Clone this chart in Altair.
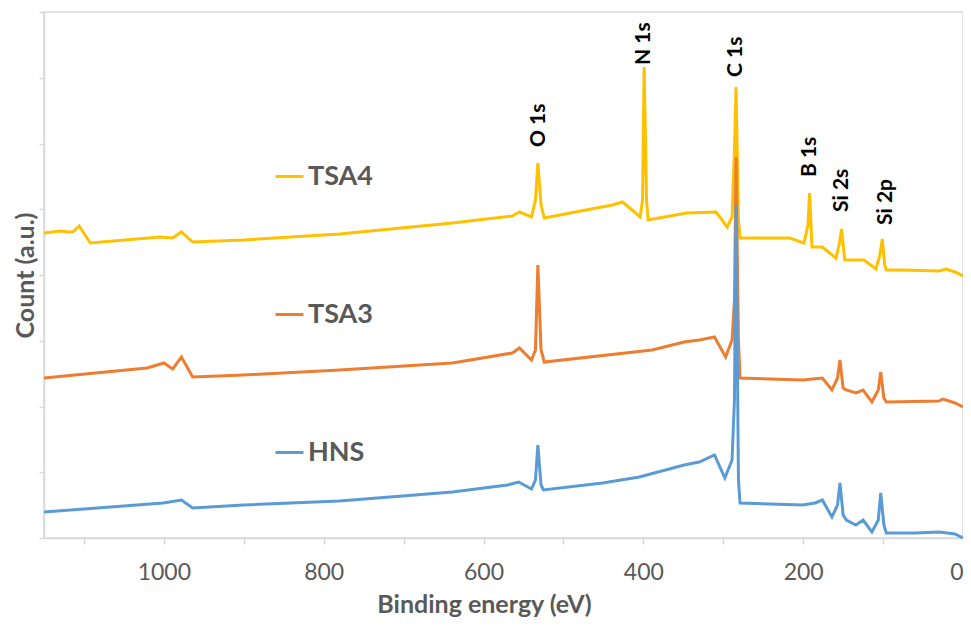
import altair as alt
import pandas as pd

# ---- data (binding energy in eV, count in a.u.) ----
tsa4_ev = [1150, 1130, 1120, 1114, 1106, 1092, 1005, 989, 978, 964, 900, 780, 639, 564, 555, 540,
           535, 532, 528, 524, 439, 426, 414, 404, 401, 399, 396, 394, 346, 309, 295, 289, 286,
           284, 281, 279, 217, 199, 194, 192, 189, 176, 159, 155, 152, 148, 124, 109, 104, 101,
           98, 96, 76, 30, 21, 10, 0]
tsa4_counts = [305, 307, 306, 306, 312, 295, 301, 300, 306, 296, 298, 304, 315, 322, 326, 321,
               338, 375, 333, 320, 333, 336, 328, 321, 338, 471, 338, 318, 325, 326, 311, 321, 388,
               451, 318, 300, 300, 295, 313, 345, 291, 291, 280, 293, 309, 278, 278, 269, 283, 299,
               273, 268, 268, 267, 269, 266, 262]

tsa3_ev = [1150, 1021, 1000, 989, 978, 964, 900, 780, 639, 564, 555, 540, 535, 532, 528, 524,
           389, 349, 330, 311, 297, 289, 286, 284, 281, 279, 201, 176, 164, 157, 154, 150, 146,
           134, 125, 114, 106, 103, 99, 96, 30, 25, 10, 0]
tsa3_counts = [160, 170, 175, 169, 181, 161, 163, 168, 175, 185, 190, 178, 188, 273, 188, 176,
               188, 196, 198, 201, 181, 198, 238, 381, 198, 160, 158, 160, 148, 160, 178, 150, 148,
               145, 148, 136, 148, 166, 140, 136, 137, 139, 135, 131]

hns_ev = [1150, 1100, 1050, 1001, 978, 964, 900, 780, 639, 570, 556, 540, 535, 532, 528, 525,
          451, 405, 349, 330, 311, 298, 289, 286, 284, 281, 279, 201, 185, 176, 164, 157, 154,
          150, 146, 134, 125, 114, 106, 103, 99, 96, 60, 30, 10, 0]
hns_counts = [26, 29, 32, 35, 38, 30, 33, 37, 46, 53, 56, 49, 58, 93, 53, 48,
              55, 61, 73, 76, 83, 60, 78, 138, 333, 58, 35, 33, 35, 38, 21, 33, 55,
              23, 18, 13, 18, 6, 18, 45, 13, 5, 5, 6, 4, 0]

series_names = ["TSA4", "TSA3", "HNS"]
series_colors = ["#FFC000", "#ED7D31", "#5B9BD5"]

peak_labels = ["O 1s", "N 1s", "C 1s", "B 1s", "Si 2s", "Si 2p"]
peak_ev = [531, 399, 284, 192, 151, 96]
peak_label_base = [391, 473, 461, 361, 326, 313]

x_ticks = [1100, 1000, 900, 800, 700, 600, 500, 400, 300, 200, 100, 0]
y_max = 526
y_ticks = [i * y_max / 8 for i in range(9)]

FONT = "Lato"
GRAY = "#595959"
AXIS_GRAY = "#d9d9d9"

frames = []
for name, ev, cnt in [("TSA4", tsa4_ev, tsa4_counts), ("TSA3", tsa3_ev, tsa3_counts),
                      ("HNS", hns_ev, hns_counts)]:
    frames.append(pd.DataFrame({"energy": ev, "count": cnt, "sample": name}))

x_scale = alt.Scale(domain=[0, 1150], reverse=True, nice=False, zero=False)
y_scale = alt.Scale(domain=[0, y_max], nice=False)
color_scale = alt.Scale(domain=series_names, range=series_colors)

x_axis = alt.Axis(
    title="Binding energy (eV)", values=x_ticks,
    labelExpr="datum.value % 200 == 0 ? datum.value : ''",
    labelFont=FONT, labelFontSize=23, labelColor=GRAY, labelPadding=17,
    labelFlush=True, labelFlushOffset=0, labelOverlap=False,
    titleFont=FONT, titleFontSize=25, titleFontWeight="bold", titleColor=GRAY, titlePadding=8,
    titleX=440,
    tickSize=6, tickColor=AXIS_GRAY, domainColor=AXIS_GRAY, tickWidth=1.5, domainWidth=1.5,
    grid=False,
)
y_axis = alt.Axis(
    title="Count (a.u.)", values=y_ticks, labels=False,
    titleFont=FONT, titleFontSize=25, titleFontWeight="bold", titleColor=GRAY, titlePadding=0,
    tickSize=5, tickColor=AXIS_GRAY, domainColor=AXIS_GRAY, tickWidth=1.5, domainWidth=1.5,
    grid=False,
)

legend = alt.Legend(
    title=None, orient="none", legendX=230, legendY=149, direction="vertical",
    symbolType="stroke", symbolSize=784, symbolStrokeWidth=3,
    labelFont=FONT, labelFontSize=27, labelFontWeight="bold", labelColor=GRAY,
    labelOffset=3, rowPadding=109,
)

x_enc = alt.X("energy:Q", scale=x_scale, axis=x_axis)
y_enc = alt.Y("count:Q", scale=y_scale, axis=y_axis)

layers = []
for df in frames:
    layers.append(
        alt.Chart(df).mark_line(strokeWidth=3, interpolate="linear").encode(
            x=x_enc, y=y_enc,
            color=alt.Color("sample:N", scale=color_scale, legend=legend),
        )
    )

labels_df = pd.DataFrame({"energy": peak_ev, "count": peak_label_base, "label": peak_labels})
text_layer = alt.Chart(labels_df).mark_text(
    angle=270, align="left", baseline="middle", font=FONT, fontSize=21,
    fontWeight="bold", color="black",
).encode(x=x_enc, y=y_enc, text="label:N")

chart = alt.layer(*layers, text_layer).properties(
    width=919, height=526,
    autosize=alt.AutoSizeParams(type="none"),
    padding={"left": 36, "top": 4, "right": 0, "bottom": 80},
).configure_view(stroke=AXIS_GRAY, strokeWidth=1.5)

chart.save("out.html", embed_options={"renderer": "svg", "actions": False})
